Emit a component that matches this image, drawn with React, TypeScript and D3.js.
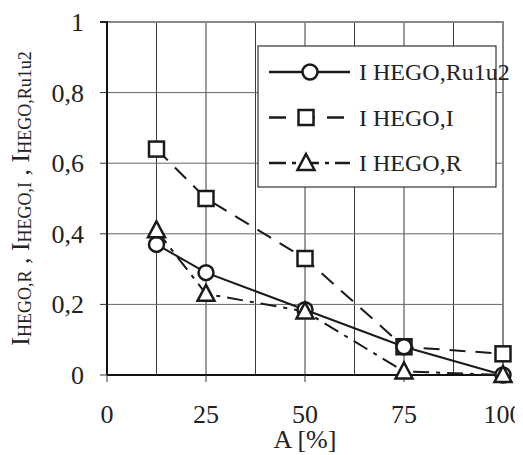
import React from "react";
import * as d3 from "d3";

const aValues = [12.5, 25, 50, 75, 100];
const ru1u2 = [0.37, 0.29, 0.185, 0.08, 0.0];
const hegoI = [0.64, 0.5, 0.33, 0.08, 0.06];
const hegoR = [0.41, 0.23, 0.18, 0.01, 0.0];
const xTicks = [0, 25, 50, 75, 100];
const yTicks = [0, 0.2, 0.4, 0.6, 0.8, 1];
const legendLabels = ["I HEGO,Ru1u2", "I HEGO,I", "I HEGO,R"];
const yLabelParts: [string, string][] = [["I", "HEGO,R"], [" , I", "HEGO,I"], [" , I", "HEGO,Ru1u2"]];

const W = 523;
const H = 455;
const M = { left: 107, right: 20, top: 22, bottom: 80 };
const FAMILY = '"Liberation Serif"';
const txt = (size: number) => ({ fontFamily: FAMILY, fontSize: `${size}px` });
const INK = "#1a1a1a";

const x = d3.scaleLinear().domain([0, 100]).range([M.left, W - M.right]);
const y = d3.scaleLinear().domain([0, 1]).range([H - M.bottom, M.top]);
const line = d3.line<number>().x((_, i) => x(aValues[i])).y((d) => y(d));
const fmtY = (d: number) => (d === 0 || d === 1 ? String(d) : d3.format(".1f")(d).replace(".", ","));

const series = [
  { vals: ru1u2, dash: undefined, marker: "circle", ldash: undefined, mx: 310 },
  { vals: hegoI, dash: "16,10", marker: "square", ldash: "17,12", mx: 306 },
  { vals: hegoR, dash: "16,7,4,7", marker: "triangle", ldash: "17,6,4,6", mx: 306 },
];

const Marker = ({ kind, cx, cy }: { kind: string; cx: number; cy: number }) => {
  const p = { fill: "#fff", stroke: INK, strokeWidth: 2.5 };
  if (kind === "circle") return <circle cx={cx} cy={cy} r={7.5} {...p} />;
  if (kind === "square") return <rect x={cx - 7.5} y={cy - 7.5} width={15} height={15} {...p} />;
  return <path d={`M${cx},${cy - 9}L${cx + 8.5},${cy + 7}L${cx - 8.5},${cy + 7}Z`} {...p} />;
};

const App = () => {
  const x0 = x(0);
  const y0 = y(0);
  return (
    <svg width={W} height={H} style={{ display: "block", margin: "-8px 0 0 -8px", fontFamily: FAMILY }}>
      {/* grid */}
      {d3.range(12.5, 100, 12.5).map((v) => (
        <line key={"gx" + v} x1={x(v)} x2={x(v)} y1={y0} y2={y(1)} stroke="#3a3a3a" strokeWidth={1} />
      ))}
      {[0.2, 0.4, 0.6, 0.8].map((v) => (
        <line key={"gy" + v} x1={x0} x2={x(100)} y1={y(v)} y2={y(v)} stroke="#666" strokeWidth={1} />
      ))}
      <path d={`M${x0},${y(1)}H${x(100)}V${y0}`} fill="none" stroke="#888" strokeWidth={2} />

      {/* y axis */}
      <path d={`M${x0 - 7},${y(1)}H${x0}V${y0}`} fill="none" stroke="#111" strokeWidth={2} />
      {yTicks.map((t) => (
        <g key={"yt" + t}>
          <line x1={x0 - 7} x2={x0} y1={y(t)} y2={y(t)} stroke="#333" />
          <text x={x0 - 23} y={y(t) + 9} textAnchor="end" fill="#222" style={txt(26)}>
            {fmtY(t)}
          </text>
        </g>
      ))}
      {/* x axis */}
      <line x1={x0} x2={x(100)} y1={y0} y2={y0} stroke="#111" strokeWidth={2} />
      {xTicks.map((t) => (
        <g key={"xt" + t}>
          <line x1={x(t)} x2={x(t)} y1={y0} y2={y0 + 7} stroke="#333" />
          <text x={x(t)} y={y0 + 48} textAnchor="middle" fill="#222" style={txt(26)}>
            {t}
          </text>
        </g>
      ))}
      <text x={x(50)} y={448} textAnchor="middle" fill="#222" style={txt(26)}>
        A [%]
      </text>
      <text
        transform={`translate(31,${(y0 + y(1)) / 2}) rotate(-90)`}
        textAnchor="middle"
        fill="#222"
        style={txt(26)}
      >
        {yLabelParts.map(([main, sub], i) => (
          <React.Fragment key={i}>
            <tspan dy={-2}>{main}</tspan>
            <tspan style={txt(18)} dy={2}>{sub}</tspan>
          </React.Fragment>
        ))}
      </text>

      {/* series */}
      {series.map((s, i) => (
        <path key={"l" + i} d={line(s.vals) || ""} fill="none" stroke={INK} strokeWidth={2} strokeDasharray={s.dash} />
      ))}
      {[series[1], series[0], series[2]].map((s, j) =>
        s.vals.map((v, i) => <Marker key={`m${j}-${i}`} kind={s.marker} cx={x(aValues[i])} cy={y(v)} />)
      )}

      {/* legend */}
      <rect x={258} y={46} width={238} height={141} fill="#fff" stroke="#333" strokeWidth={1.2} />
      {series.map((s, i) => {
        const ly = 72 + i * 45.5;
        return (
          <g key={"lg" + i}>
            <line x1={269} x2={350} y1={ly} y2={ly} stroke={INK} strokeWidth={2.5} strokeDasharray={s.ldash} />
            <Marker kind={s.marker} cx={s.mx} cy={ly} />
            <text x={359} y={ly + 8} fill="#222" style={txt(24)}>
              {legendLabels[i]}
            </text>
          </g>
        );
      })}
    </svg>
  );
};

export default App;
